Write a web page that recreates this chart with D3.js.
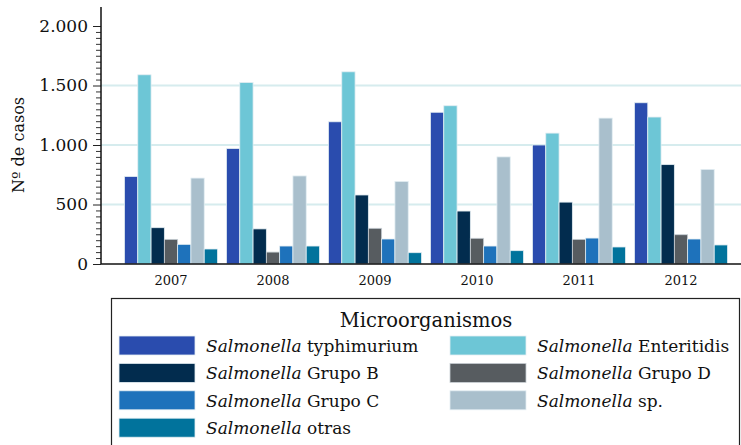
<!DOCTYPE html>
<html>
<head>
<meta charset="utf-8">
<script src="https://cdn.jsdelivr.net/npm/d3@7"></script>
<style>
  body { margin: 0; background: #fff; }
  svg { display: block; font-family: "DejaVu Serif", serif; }
</style>
</head>
<body>
<div id="chart"></div>
<script>
var years = ["2007", "2008", "2009", "2010", "2011", "2012"];

var seriesNames = ["typhimurium", "Enteritidis", "Grupo B", "Grupo D", "Grupo C", "sp.", "otras"];
var seriesColors = ["#2a4cae", "#6dc6d6", "#022c4e", "#575c60", "#1e72bb", "#a9bfcc", "#01739c"];

var typhimurium = [735, 970, 1195, 1275, 1000, 1355];
var enteritidis = [1590, 1525, 1615, 1330, 1100, 1235];
var grupoB = [305, 295, 580, 445, 520, 835];
var grupoD = [207, 100, 300, 216, 207, 246];
var grupoC = [165, 151, 210, 151, 218, 210];
var sp = [722, 740, 694, 900, 1226, 795];
var otras = [126, 151, 95, 112, 143, 160];

var seriesValues = [typhimurium, enteritidis, grupoB, grupoD, grupoC, sp, otras];

var yTicks = [0, 500, 1000, 1500, 2000];
var gridTicks = [500, 1000, 1500];

// legend order (two columns)
var legendOrder = [0, 1, 2, 3, 4, 5, 6];
var legendLabels = ["typhimurium", "Enteritidis", "Grupo B", "Grupo D", "Grupo C", "sp.", "otras"];

var width = 741,
    height = 445,
    font = "DejaVu Serif, serif";

var svg = d3.select("#chart")
    .append("svg")
    .attr("width", width)
    .attr("height", height);

var x0 = d3.scaleBand()
    .domain(years)
    .range([120, 732])
    .paddingInner(0.088)
    .paddingOuter(0.044);

var x1 = d3.scaleBand()
    .domain(d3.range(seriesNames.length))
    .range([0, x0.bandwidth()]);

var y = d3.scaleLinear()
    .domain([0, 2000])
    .range([264, 26]);

// gridlines
svg.append("g")
    .selectAll("line")
    .data(gridTicks).enter()
    .append("line")
    .attr("x1", 101)
    .attr("x2", width)
    .attr("y1", function(d) { return y(d); })
    .attr("y2", function(d) { return y(d); })
    .attr("stroke", "#d6ecee")
    .attr("stroke-width", 2);

// bars
var groups = svg.append("g")
    .selectAll("g")
    .data(years).enter()
    .append("g")
    .attr("transform", function(d) { return "translate(" + x0(d) + ",0)"; });

groups.selectAll("rect")
    .data(function(d, i) {
        return seriesValues.map(function(s, k) { return {k: k, v: s[i]}; });
    }).enter()
    .append("rect")
    .attr("x", function(d) { return x1(d.k); })
    .attr("width", x1.bandwidth())
    .attr("y", function(d) { return y(d.v); })
    .attr("height", function(d) { return y(0) - y(d.v); })
    .attr("fill", function(d) { return seriesColors[d.k]; })
    .attr("stroke", function(d) { return d.k == 3 ? "#c8cfd4" : "#e3edf2"; })
    .attr("stroke-width", 0.8);

// y axis: major ticks
var yAxis = d3.axisLeft(y)
    .tickValues(yTicks)
    .tickSize(8)
    .tickPadding(5)
    .tickFormat(function(d) { return d3.format(",")(d).replace(",", "."); });

var yg = svg.append("g")
    .attr("transform", "translate(101,0)")
    .call(yAxis);
yg.select(".domain").remove();
yg.selectAll("text")
    .attr("font-size", 17)
    .attr("font-family", font)
    .attr("fill", "#111");
yg.selectAll("line").attr("stroke", "#222");

// minor ticks every 50
var minorTicks = d3.range(0, 2001, 50).filter(function(d) { return d % 500 != 0; });
svg.append("g")
    .attr("transform", "translate(101,0)")
    .call(d3.axisLeft(y).tickValues(minorTicks).tickSize(5).tickFormat(""))
    .call(function(g) { g.select(".domain").remove(); })
    .selectAll("line").attr("stroke", "#333");

svg.append("line")
    .attr("x1", 101).attr("x2", 101)
    .attr("y1", 7).attr("y2", y(0))
    .attr("stroke", "#111")
    .attr("stroke-width", 1.5);

// x axis
var xg = svg.append("g")
    .attr("transform", "translate(0," + y(0) + ")")
    .call(d3.axisBottom(x0).tickSize(0).tickPadding(12));
xg.select(".domain").remove();
xg.selectAll("text")
    .attr("font-size", 13)
    .attr("font-family", font)
    .attr("fill", "#111");

svg.append("line")
    .attr("x1", 101).attr("x2", width)
    .attr("y1", y(0)).attr("y2", y(0))
    .attr("stroke", "#111")
    .attr("stroke-width", 1.5);

// y title
svg.append("text")
    .attr("transform", "translate(24,145) rotate(-90)")
    .attr("text-anchor", "middle")
    .attr("font-size", 16)
    .attr("fill", "#111")
    .text("Nº de casos");

// legend
var legend = svg.append("g");

legend.append("rect")
    .attr("x", 111.5)
    .attr("y", 298.5)
    .attr("width", 628)
    .attr("height", 160)
    .attr("fill", "none")
    .attr("stroke", "#222")
    .attr("stroke-width", 1.2);

legend.append("text")
    .attr("x", 426)
    .attr("y", 327)
    .attr("text-anchor", "middle")
    .attr("font-size", 19.5)
    .attr("fill", "#111")
    .text("Microorganismos");

var items = legend.selectAll(".item")
    .data(legendOrder).enter()
    .append("g")
    .attr("class", "item")
    .attr("transform", function(d, i) {
        var col = i % 2, row = Math.floor(i / 2);
        return "translate(" + (col == 0 ? 119 : 450) + "," + (336 + row * 27.4) + ")";
    });

items.append("rect")
    .attr("width", 76)
    .attr("height", 19)
    .attr("fill", function(d) { return seriesColors[d]; })
    .attr("stroke", function(d) { return d == 3 ? "#c8cfd4" : "#e3edf2"; })
    .attr("stroke-width", 0.8);

var labels = items.append("text")
    .attr("x", 87)
    .attr("y", 16)
    .attr("font-size", 17)
    .attr("fill", "#111");
labels.append("tspan")
    .attr("font-style", "italic")
    .text("Salmonella");
labels.append("tspan")
    .text(function(d) { return " " + legendLabels[d]; });
</script>
</body>
</html>
